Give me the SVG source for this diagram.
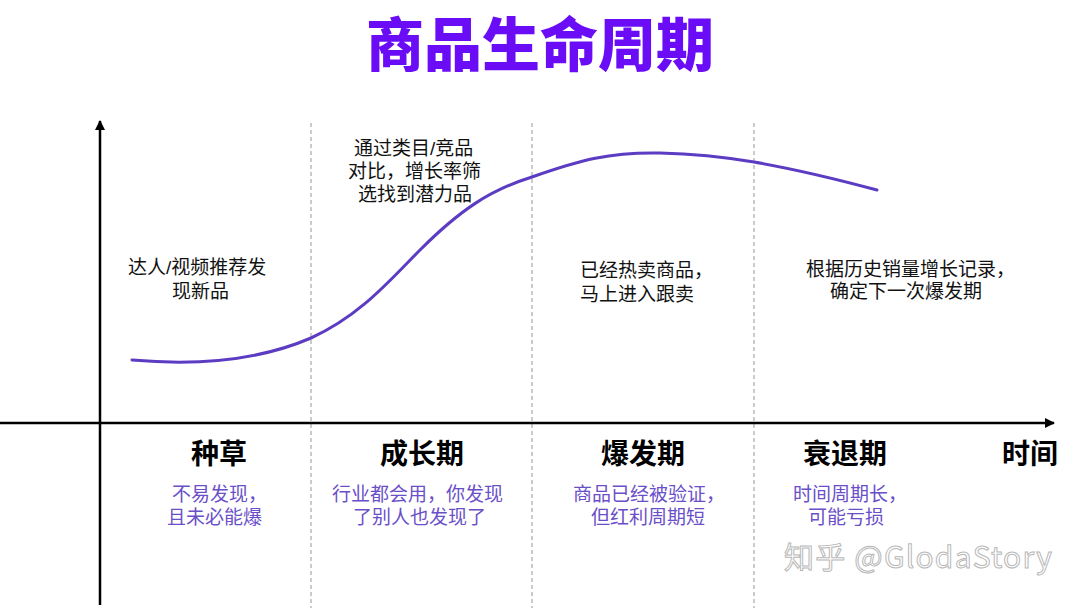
<svg xmlns="http://www.w3.org/2000/svg" width="1080" height="608" viewBox="0 0 1080 608">
  <defs>
    <marker id="arr" viewBox="0 0 10 10" refX="9" refY="5" markerWidth="10" markerHeight="10" markerUnits="userSpaceOnUse" orient="auto">
      <path d="M0,0 L10,5 L0,10 Z" fill="#000"/>
    </marker>
    <style>
      text { font-family: "Noto Sans CJK SC", "Noto Sans", sans-serif; }
      .title { font-size: 58px; font-weight: 900; fill: #6a0cf6; }
      .note { font-family: "Liberation Sans", "Noto Sans CJK SC", sans-serif; font-size: 19px; fill: #111; dominant-baseline: central; }
      .stage { font-size: 28px; font-weight: 700; fill: #000; dominant-baseline: central; }
      .desc { font-family: "Liberation Sans", "Noto Sans CJK SC", sans-serif; font-size: 19px; fill: #6a4fc8; dominant-baseline: central; }
      .axis { stroke: #000; stroke-width: 2.5; fill: none; }
      .div { stroke: #a8a8a8; stroke-width: 1.2; stroke-dasharray: 4 3; fill: none; }
      .curve { stroke: #5b3cc2; stroke-width: 3; fill: none; stroke-linecap: round; }
      .wm { font-size: 30px; fill: #fff; stroke: #b8b8b8; stroke-width: 1; letter-spacing: 1.2px; }
    </style>
  </defs>
  <rect width="1080" height="608" fill="#fff"/>
  <text class="title" x="540" y="66" text-anchor="middle">商品生命周期</text>

  <g id="connectors">
    <line class="div" x1="311" y1="123" x2="311" y2="608"/>
    <line class="div" x1="532" y1="123" x2="532" y2="608"/>
    <line class="div" x1="754" y1="123" x2="754" y2="608"/>
    <line class="axis" x1="100" y1="605" x2="100" y2="121" marker-end="url(#arr)"/>
    <line class="axis" x1="0" y1="423" x2="1054" y2="423" marker-end="url(#arr)"/>
    <path class="curve" d="M132,360 C200,366 260,360 311,338 C360,316 390,280 420,250 C460,210 490,190 532,177 C580,160 610,152 660,153 C700,154 730,158 754,162 C800,170 840,180 877,190"/>
  </g>

  <g id="seed">
    <text class="note"><tspan x="128" y="267">达人/视频推荐发</tspan><tspan x="172" y="291">现新品</tspan></text>
    <text class="stage" x="191" y="452">种草</text>
    <text class="desc"><tspan x="172" y="494">不易发现，</tspan><tspan x="167" y="517">且未必能爆</tspan></text>
  </g>
  <g id="growth">
    <text class="note"><tspan x="354" y="148">通过类目/竞品</tspan><tspan x="348" y="171">对比，增长率筛</tspan><tspan x="358" y="194">选找到潜力品</tspan></text>
    <text class="stage" x="380" y="452">成长期</text>
    <text class="desc"><tspan x="332" y="494">行业都会用，你发现</tspan><tspan x="353" y="517">了别人也发现了</tspan></text>
  </g>
  <g id="boom">
    <text class="note"><tspan x="580" y="270">已经热卖商品，</tspan><tspan x="580" y="294">马上进入跟卖</tspan></text>
    <text class="stage" x="601" y="452">爆发期</text>
    <text class="desc"><tspan x="573" y="494">商品已经被验证，</tspan><tspan x="591" y="517">但红利周期短</tspan></text>
  </g>
  <g id="decline">
    <text class="note"><tspan x="806" y="269">根据历史销量增长记录，</tspan><tspan x="830" y="291">确定下一次爆发期</tspan></text>
    <text class="stage" x="803" y="452">衰退期</text>
    <text class="desc"><tspan x="793" y="494">时间周期长，</tspan><tspan x="808" y="517">可能亏损</tspan></text>
  </g>
  <g id="time">
    <text class="stage" x="1002" y="452">时间</text>
  </g>
  <text class="wm" x="784" y="568">知乎 @GlodaStory</text>
</svg>
